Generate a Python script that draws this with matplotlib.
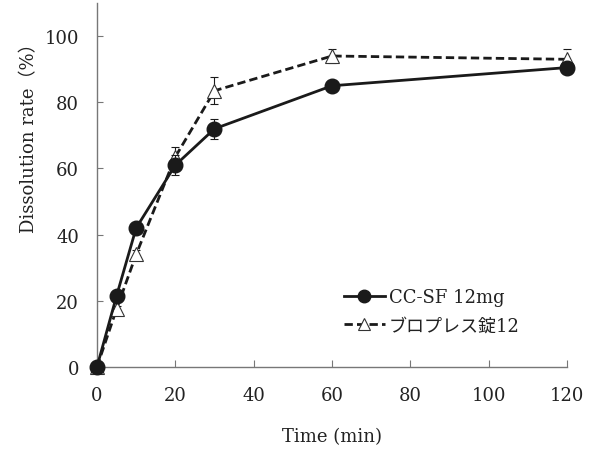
import matplotlib
matplotlib.use("Agg")
import matplotlib.pyplot as plt
from matplotlib.lines import Line2D

time = [0, 5, 10, 20, 30, 60, 120]
ccsf = [0, 21.5, 42, 61, 72, 85, 90.5]
ccsf_err = [0, 1, 1.5, 3, 3, 1, 1.5]
blop = [0, 17.5, 34, 63.5, 83.5, 94, 93]
blop_err = [0, 1, 1.5, 3, 4, 2, 3]
labels = ["CC-SF 12mg", "ブロプレス錠12"]

plt.rcParams['font.family'] = ['DejaVu Serif', 'Noto Sans CJK JP']
fig = plt.figure(figsize=(5.95, 4.52), dpi=100)
ax = fig.add_axes([0.163, 0.186, 0.79, 0.805])

dash = (0, (3, 1.5))
ax.errorbar(time, ccsf, yerr=ccsf_err, color='#1a1a1a', lw=2, marker='o', ms=10.5,
            capsize=3, elinewidth=0.8, capthick=0.8, zorder=3)
ax.errorbar(time, blop, yerr=blop_err, color='#1a1a1a', lw=2, ls=dash, marker='^', ms=10,
            mfc='white', mec='#333333', mew=0.8, capsize=3, elinewidth=0.8, capthick=0.8,
            zorder=2)

ax.set_xlim(0, 120)
ax.set_ylim(0, 110)
ax.set_xticks(range(0, 121, 20))
ax.set_yticks(range(0, 101, 20))
for s in ['top', 'right']:
    ax.spines[s].set_visible(False)
for s in ['left', 'bottom']:
    ax.spines[s].set_color('#777777')
    ax.spines[s].set_linewidth(1)
ax.tick_params(axis='x', direction='in', length=5, color='#777777', labelsize=13, pad=14,
               labelcolor='#222222')
ax.tick_params(axis='y', direction='in', length=4, color='#777777', labelsize=13, pad=13,
               labelcolor='#222222')
ax.set_xlabel("Time (min)", fontsize=13, labelpad=16, color='#222222')
ax.set_ylabel("Dissolution rate（%）", fontsize=13, color='#222222')
ax.yaxis.set_label_coords(-0.125, 0.645)
for l in ax.get_lines():
    l.set_clip_on(False)

handles = [
    Line2D([], [], color='#1a1a1a', lw=2, marker='o', ms=9),
    Line2D([], [], color='#1a1a1a', lw=2, ls=dash, marker='^', ms=9, mfc='white',
           mec='#333333', mew=0.8),
]
ax.legend(handles, labels, loc='lower left', bbox_to_anchor=(0.49, 0.045), frameon=False,
          fontsize=13, handlelength=2.3, handletextpad=0.2, labelspacing=0.55,
          labelcolor='#222222')
fig.savefig("out.png", dpi=100)
